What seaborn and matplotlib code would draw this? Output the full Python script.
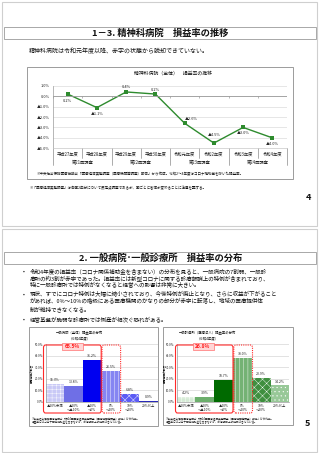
import numpy as np
import pandas as pd
import matplotlib
matplotlib.use("Agg")
import matplotlib.pyplot as plt
import seaborn as sns
from matplotlib.patches import Rectangle, FancyBboxPatch

sns.set_theme(style="white")
plt.rcParams['font.family'] = ['Noto Sans CJK JP', 'DejaVu Sans']
plt.rcParams['hatch.linewidth'] = 0.3

# ---------------- data ----------------
years = ["平成27年度", "平成28年度", "平成29年度", "平成30年度",
         "令和元年度", "令和2年度", "令和3年度", "令和4年度"]
surveys = ["第21回調査", "第22回調査", "第23回調査", "第24回調査"]
margin = [0.2, -1.1, 0.4, 0.2, -2.6, -4.5, -3.0, -4.0]
margin_labels = ["0.2%", "▲1.1%", "0.4%", "0.2%", "▲2.6%", "▲4.5%", "▲3.0%", "▲4.0%"]
top_yticks = [1.0, 0.0, -1.0, -2.0, -3.0, -4.0, -5.0]
top_yticklabels = ["1.0%", "0.0%", "▲1.0%", "▲2.0%", "▲3.0%", "▲4.0%", "▲5.0%"]

dist_cats = ["▲20%未満", "▲20%\n～▲10%", "▲10%\n～0%", "0%\n～10%", "10%\n～20%", "20%以上"]
hosp_share = [15.3, 13.8, 36.2, 26.5, 6.8, 0.9]
clinic_share = [4.2, 3.9, 18.7, 38.0, 20.9, 14.2]
hosp_deficit = "65.5%"
clinic_deficit = "26.8%"
dist_yticks = [0, 10, 20, 30, 40, 50]
dist_yticklabels = ["0.0%", "10.0%", "20.0%", "30.0%", "40.0%", "50.0%"]

W, H = 320, 453
fig = plt.figure(figsize=(W / 100, H / 100), dpi=100)
fig.patch.set_facecolor("white")


def fx(x):
    return x / W


def fy(y):
    return 1 - y / H


def rect_px(x0, y0, x1, y1):
    return [fx(x0), fy(y1), (x1 - x0) / W, (y1 - y0) / H]


def box(x0, y0, x1, y1, ec="#8c8c8c", lw=0.6, ls="-", fc="none", z=0):
    r = Rectangle((fx(x0), fy(y1)), (x1 - x0) / W, (y1 - y0) / H, transform=fig.transFigure,
                  fill=(fc != "none"), facecolor=fc, edgecolor=ec, lw=lw, ls=ls, zorder=z)
    fig.add_artist(r)


def txt(x, y, s, size, ha="left", va="center", **kw):
    fig.text(fx(x), fy(y), s, fontsize=size, ha=ha, va=va, color=kw.pop("color", "#111111"), **kw)


# ---------------- slide frames ----------------
box(1.5, 1.5, 316.5, 226, ec="#cfcfcf", lw=0.8)
box(1.5, 228.5, 316.5, 452, ec="#cfcfcf", lw=0.8)

# ---------------- slide 4 ----------------
box(3.5, 27, 315.5, 39, ec="#9a9a9a", lw=0.6)
txt(160, 33, "1－3. 精神科病院　損益率の推移", 6.7, ha="center", fontweight="bold")
txt(29, 51, "精神科病院は令和元年度以降、赤字の状態から脱却できていない。", 4.3)
box(27, 67, 293, 179, ec="#8c8c8c", lw=0.6)
txt(173, 73.5, "精神科病院（全体）　損益率の推移", 3.5, ha="center")

ax1 = fig.add_axes(rect_px(53, 85.7, 287, 148.3))
x_idx = np.arange(len(years))
sns.lineplot(x=x_idx, y=margin, ax=ax1, color="#2e8b2e", lw=1.0, marker="s",
             markersize=2.2, markeredgewidth=0)
ax1.set_xlim(-0.5, len(years) - 0.5)
ax1.set_ylim(-5, 1)
ax1.set_yticks(top_yticks)
ax1.set_yticklabels(top_yticklabels)
ax1.set_xticks([])
ax1.yaxis.grid(True, color="#dcdcdc", lw=0.5)
ax1.axhline(0, color="#9a9a9a", lw=0.6)
ax1.tick_params(axis="y", labelsize=2.8, length=0, pad=2.2, colors="#222222")
for s in ["top", "right"]:
    ax1.spines[s].set_visible(False)
ax1.spines["left"].set_color("#9a9a9a")
ax1.spines["left"].set_linewidth(0.5)
ax1.spines["bottom"].set_color("#c8c8c8")
ax1.spines["bottom"].set_linewidth(0.5)
ax1.vlines(np.arange(len(years) + 1) - 0.5, -0.15, 0, color="#9a9a9a", lw=0.5)

offsets = [(0, -7), (0, -6.5), (0, 4.5), (0, 4.5), (6.5, 4.5), (0, 8), (0, -6), (0, -6.3)]
for i, (v, lab) in enumerate(zip(margin, margin_labels)):
    ox, oy = offsets[i]
    ax1.annotate(lab, (i, v), xytext=(ox * 0.72, oy * 0.72), textcoords="offset points",
                 ha="center", va="center", fontsize=2.8, color="#222222")

xt = ax1.get_xaxis_transform()
for k in range(len(years) + 1):
    bottom = -0.27 if k % 2 == 0 else -0.155
    ax1.plot([k - 0.5, k - 0.5], [0, bottom], transform=xt, clip_on=False, color="#8c8c8c", lw=0.5)
for i, yl in enumerate(years):
    ax1.text(i, -0.091, yl, transform=xt, ha="center", va="center", fontsize=3.1, color="#222222")
for j, sv in enumerate(surveys):
    ax1.text(2 * j + 0.5, -0.214, sv, transform=xt, ha="center", va="center", fontsize=3.1, color="#222222")

txt(36.5, 174, "※中央社会保険医療協議会「医療経済実態調査（医療機関等調査）報告」から作成。令和2～4年度はコロナ補助金を除いた損益率。", 2.55)
txt(29, 187.5, "※「医療経済実態調査」は各回2年分について反定点調査であるが、回ごとに客体が変わることに注意を要する。", 2.55)
txt(308, 197.5, "4", 6.5, ha="center", fontweight="bold")

# ---------------- slide 5 ----------------
box(3.5, 252, 315.5, 264, ec="#9a9a9a", lw=0.6)
txt(161, 258, "2. 一般病院･一般診療所　損益率の分布", 6.7, ha="center", fontweight="bold")
bullets = [
    (271, True, "令和4年度の損益率（コロナ関係補助金を含まない）の分布を見ると、一般病院の7割弱、一般診"),
    (278, False, "療所の約3割が赤字であった。損益率には新型コロナに関する診療報酬上の特例が含まれており、"),
    (285, False, "特に一般診療所では特例がなくなると経営への影響は非常に大きい。"),
    (294.5, True, "現状、すでにコロナ特例は大幅に縮小されており、今後特例が廃止となり、さらに収益が下がること"),
    (301.5, False, "があれば、0%～10%の階級にある医療機関のかなりの部分が赤字に転落し、地域の医療提供体"),
    (309, False, "制が維持できなくなる。"),
    (319, True, "経営基盤が脆弱な診療所では倒産が相次ぐ恐れがある。"),
]
for y, has_b, line in bullets:
    if has_b:
        txt(24, y, "•", 4.0, ha="center")
    txt(30, y, line, 4.0)

hosp_colors = ["#c9c9f6", "#6f6fe6", "#0000f0", "#8585f2", "#5c5cf5", "#2a2ab8"]
hosp_hatch = ["++++", "", "", "||||", "xxxx", ""]
clin_colors = ["#d4ead4", "#6cae6c", "#006a00", "#74b274", "#3f8f3f", "#98c898"]
clin_hatch = ["++++", "", "", "||||", "xxxx", "...."]

charts = [
    dict(vals=hosp_share, colors=hosp_colors, hatch=hosp_hatch, frame=(29, 327, 158, 426),
         ax=(45.7, 344.3, 157.7, 401.7), title=("一般病院（全体）損益率の分布", "（令和4年度）"), tx=80,
         red=(43.5, 101.2), dot=(102.0, 120.6), tag=hosp_deficit, tagx=72, ylx=31.5),
    dict(vals=clinic_share, colors=clin_colors, hatch=clin_hatch, frame=(163, 327, 293, 425),
         ax=(176.7, 344.3, 289.3, 401.7), title=("一般診療所（医療法人）損益率の分布", "（令和4年度）"), tx=208,
         red=(175.5, 233.0), dot=(233.8, 252.5), tag=clinic_deficit, tagx=203, ylx=165),
]

for c in charts:
    box(*c["frame"], ec="#8c8c8c", lw=0.6)
    txt(c["tx"], 333.5, c["title"][0], 2.4, ha="center")
    txt(c["tx"], 338.5, c["title"][1], 2.4, ha="center")
    ax = fig.add_axes(rect_px(*c["ax"]))
    df = pd.DataFrame({"cat": dist_cats, "share": c["vals"]})
    sns.barplot(data=df, x="cat", y="share", hue="cat", palette=c["colors"], legend=False,
                width=1.0, saturation=1, ax=ax, linewidth=0)
    bars = sorted([p for p in ax.patches], key=lambda p: p.get_x())
    for p, h, col in zip(bars, c["hatch"], c["colors"]):
        p.set_facecolor(col)
        if h:
            p.set_hatch(h)
            p.set_edgecolor("white")
            p.set_linewidth(0)
    ax.set_xlim(-0.5, 5.5)
    ax.set_ylim(0, 50)
    ax.set_yticks(dist_yticks)
    ax.set_yticklabels(dist_yticklabels)
    ax.yaxis.grid(True, color="#d6d6d6", lw=0.5)
    ax.set_axisbelow(True)
    ax.set_xlabel("")
    ax.set_ylabel("")
    ax.set_xticks(range(len(dist_cats)))
    ax.set_xticklabels(dist_cats, fontsize=2.4, linespacing=1.1, color="#222222")
    ax.tick_params(axis="x", length=0, pad=1.3)
    ax.tick_params(axis="y", labelsize=2.1, length=0, pad=1.6, colors="#222222")
    for s in ["top", "right"]:
        ax.spines[s].set_visible(False)
    ax.spines["left"].set_color("#9a9a9a")
    ax.spines["left"].set_linewidth(0.5)
    ax.spines["bottom"].set_color("#9a9a9a")
    ax.spines["bottom"].set_linewidth(0.5)
    for i, v in enumerate(c["vals"]):
        ax.text(i, v + 3.3, f"{v:.1f}%", ha="center", va="center", fontsize=2.5, color="#222222")
    txt(c["ylx"], 373, "医療機関の割合", 2.0, ha="center", rotation=90)
    # red highlight boxes
    r0, r1 = c["red"]
    fig.add_artist(FancyBboxPatch((fx(r0), fy(413)), (r1 - r0) / W, (413 - 345) / H,
                                  boxstyle="round,pad=0,rounding_size=0.006", transform=fig.transFigure,
                                  fill=False, ec="#ff2a2a", lw=0.8, zorder=5))
    d0, d1 = c["dot"]
    fig.add_artist(FancyBboxPatch((fx(d0), fy(413)), (d1 - d0) / W, (413 - 345) / H,
                                  boxstyle="round,pad=0,rounding_size=0.006", transform=fig.transFigure,
                                  fill=False, ec="#ff2a2a", lw=0.8, ls=(0, (1, 1)), zorder=5))
    tx = c["tagx"]
    fig.add_artist(FancyBboxPatch((fx(tx - 10.5), fy(349.5)), 21 / W, 6.5 / H,
                                  boxstyle="square,pad=0", transform=fig.transFigure,
                                  fc="#ffd6d6", ec="#ff7070", lw=0.5, zorder=6))
    fig.text(fx(tx), fy(346.3), c["tag"], fontsize=3.6, ha="center", va="center", color="#ff1a1a",
             fontweight="bold", zorder=7)
    fx0 = c["frame"][0] + 3
    txt(fx0, 418.7, "※中央社会保険医療協議会「第24回医療経済実態調査（医療機関等調査）報告」から作成。", 1.9)
    txt(fx0, 422.7, "損益率にはコロナ関係補助金を含まないが、診療報酬上の特例は含んでいる。", 1.9)

txt(307, 423.5, "5", 6.5, ha="center", fontweight="bold")

fig.savefig("out.png", dpi=100)
